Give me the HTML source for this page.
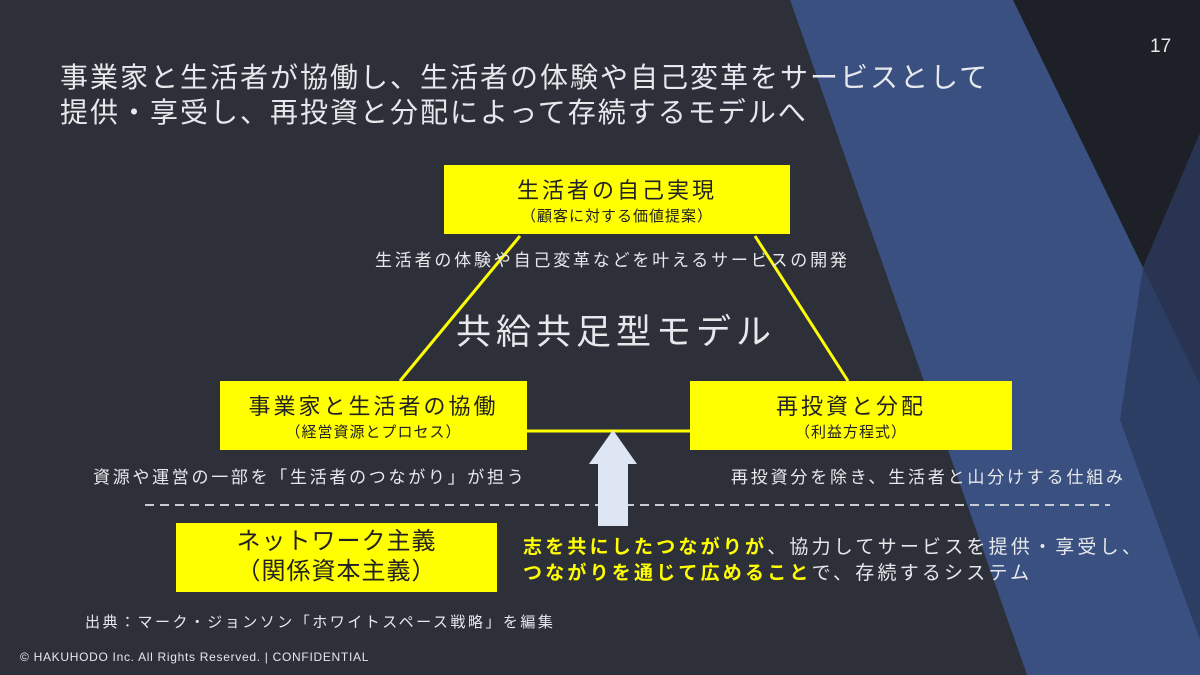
<!DOCTYPE html>
<html><head><meta charset="utf-8"><style>
body{margin:0;width:1200px;height:675px;overflow:hidden;background:#2d3038;position:relative;font-family:"Liberation Sans","Noto Sans CJK JP",sans-serif;color:#e6e8ec}
.a{position:absolute;white-space:nowrap}
.box{position:absolute;background:#ffff00;color:#222;text-align:center}
</style></head><body>
<svg class="a" style="left:0;top:0" width="1200" height="675">
<polygon points="790,0 1200,0 1200,675 1027,675" fill="#1e2027"/>
<polygon points="790,0 1013,0 1200,385 1200,675 1027,675" fill="#3a5080"/>
<polygon points="1200,133 1143,267 1120,420 1200,640" fill="#2a3a5e" opacity="0.8"/>
<line x1="520" y1="236" x2="400" y2="381" stroke="#ffff00" stroke-width="3"/>
<line x1="755" y1="236" x2="848" y2="381" stroke="#ffff00" stroke-width="3"/>
<line x1="527" y1="431" x2="690" y2="431" stroke="#ffff00" stroke-width="3"/>
<line x1="145" y1="505" x2="1110" y2="505" stroke="#c8ccd4" stroke-width="2" stroke-dasharray="9,6"/>
<polygon points="613,430 637,464 628,464 628,526 598,526 598,464 589,464" fill="#dde6f2"/>
</svg>
<div class="a" style="left:1150px;top:36px;font-size:19px">17</div>
<div class="a" style="left:60px;top:60px;font-size:28px;line-height:35px;letter-spacing:2px">事業家と生活者が協働し、生活者の体験や自己変革をサービスとして<br>提供・享受し、再投資と分配によって存続するモデルへ</div>
<div class="box" style="left:444px;top:165px;width:346px;height:69px;letter-spacing:3px"><div style="font-size:22px;margin-top:8px">生活者の自己実現</div><div style="font-size:15px;letter-spacing:1px">（顧客に対する価値提案）</div></div>
<div class="box" style="left:220px;top:381px;width:307px;height:69px;letter-spacing:3px"><div style="font-size:22px;margin-top:8px">事業家と生活者の協働</div><div style="font-size:15px;letter-spacing:1px">（経営資源とプロセス）</div></div>
<div class="box" style="left:690px;top:381px;width:322px;height:69px;letter-spacing:3px"><div style="font-size:22px;margin-top:8px">再投資と分配</div><div style="font-size:15px;letter-spacing:1px">（利益方程式）</div></div>
<div class="box" style="left:176px;top:523px;width:321px;height:69px;font-size:24px;line-height:30px;letter-spacing:1px"><div style="margin-top:4px">ネットワーク主義<br>（関係資本主義）</div></div>
<div class="a" style="left:375px;top:246px;font-size:17px;letter-spacing:2.8px">生活者の体験や自己変革などを叶えるサービスの開発</div>
<div class="a" style="left:456px;top:304px;font-size:35px;letter-spacing:5px">共給共足型モデル</div>
<div class="a" style="left:93px;top:463px;font-size:17px;letter-spacing:2.7px">資源や運営の一部を「生活者のつながり」が担う</div>
<div class="a" style="left:731px;top:463px;font-size:17px;letter-spacing:2.8px">再投資分を除き、生活者と山分けする仕組み</div>
<div class="a" style="left:523px;top:535px;font-size:19px;line-height:26px;letter-spacing:3.2px"><b style="color:#ffff00">志を共にしたつながりが</b>、協力してサービスを提供・享受し、<br><b style="color:#ffff00">つながりを通じて広めること</b>で、存続するシステム</div>
<div class="a" style="left:85px;top:611px;font-size:15px;letter-spacing:2.5px">出典：マーク・ジョンソン「ホワイトスペース戦略」を編集</div>
<div class="a" style="left:20px;top:650px;font-size:12px;letter-spacing:0.7px">© HAKUHODO Inc. All Rights Reserved. | CONFIDENTIAL</div>
</body></html>
